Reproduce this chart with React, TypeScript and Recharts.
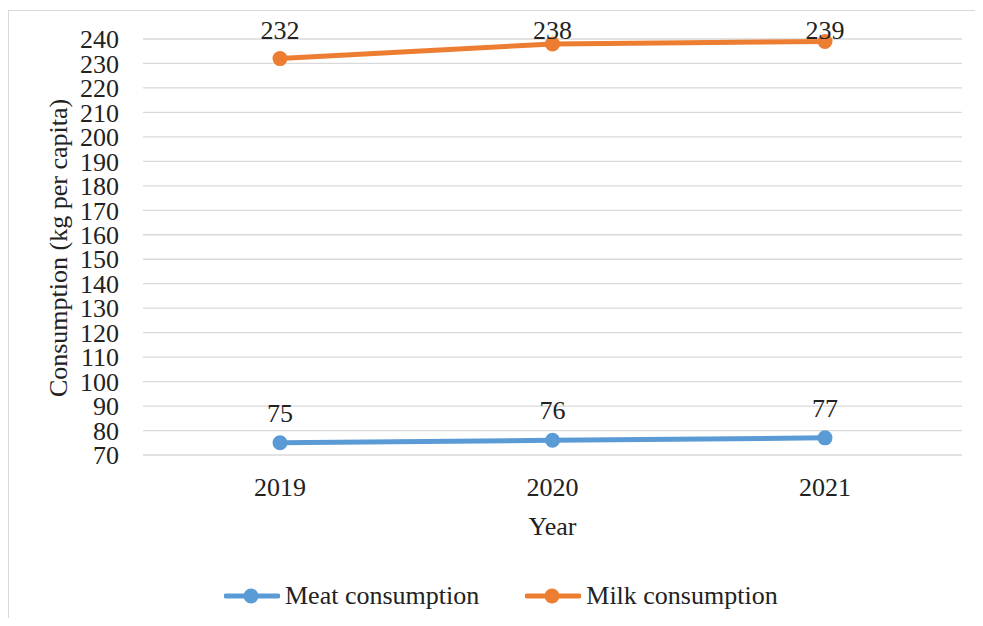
import { LineChart, Line, XAxis, YAxis, CartesianGrid, Legend, LabelList } from "recharts";

const YEARS = ["2019", "2020", "2021"];
const MEAT = [75, 76, 77];
const MILK = [232, 238, 239];
const Y_TICKS = [70, 80, 90, 100, 110, 120, 130, 140, 150, 160, 170, 180, 190, 200, 210, 220, 230, 240];

const SERIES = [
  { key: "meat", name: "Meat consumption", color: "#5B9BD5" },
  { key: "milk", name: "Milk consumption", color: "#ED7D31" },
];

const data = YEARS.map((year, i) => ({ year, meat: MEAT[i], milk: MILK[i] }));

const FONT = "'Liberation Serif', 'DejaVu Serif', serif";
const TEXT = "#222222";

// labels near the top are held inside the plot, like the spreadsheet does
function PointLabel(props: any) {
  const { x, y, value } = props;
  const baseline = Math.max(y - 21, 39);
  return (
    <text x={x} y={baseline} textAnchor="middle" fontSize={26} fill={TEXT} fontFamily={FONT}>
      {value}
    </text>
  );
}

function LegendContent() {
  return (
    <div style={{ display: "flex", alignItems: "center", height: 30, fontFamily: FONT, fontSize: 26, color: TEXT }}>
      {SERIES.map((s, i) => (
        <div key={s.key} style={{ display: "flex", alignItems: "center", marginLeft: i === 0 ? 0 : 46 }}>
          <svg width={56} height={20} style={{ display: "block" }}>
            <line x1={2} y1={10} x2={54} y2={10} stroke={s.color} strokeWidth={5} strokeLinecap="round" />
            <circle cx={27} cy={10} r={7.5} fill={s.color} />
          </svg>
          <span style={{ marginLeft: 5, lineHeight: "30px" }}>{s.name}</span>
        </div>
      ))}
    </div>
  );
}

export default function App() {
  return (
    <div
      style={{
        position: "relative",
        margin: -8,
        width: 983,
        height: 626,
        background: "#fff",
        overflow: "hidden",
        fontFamily: FONT,
      }}
    >
      <div
        style={{
          position: "absolute",
          left: 8,
          top: 10,
          width: 1100,
          height: 800,
          border: "1.5px solid #D9D9D9",
        }}
      />
      <LineChart
        width={983}
        height={626}
        data={data}
        margin={{ top: 39, right: 21, bottom: 0, left: 0 }}
        style={{ position: "absolute", left: 0, top: 0, fontFamily: FONT }}
      >
        <CartesianGrid vertical={false} stroke="#D9D9D9" strokeWidth={1.3} />
        <XAxis
          dataKey="year"
          scale="point"
          padding={{ left: 137, right: 137 }}
          axisLine={false}
          tickLine={false}
          tickSize={0}
          tickMargin={23}
          interval={0}
          height={141}
          tick={{ fontSize: 26, fill: TEXT, fontFamily: FONT }}
          label={{ value: "Year", position: "insideTop", offset: 62, fontSize: 26, fill: TEXT, fontFamily: FONT }}
        />
        <YAxis
          domain={[70, 240]}
          ticks={Y_TICKS}
          interval={0}
          width={143}
          axisLine={false}
          tickLine={false}
          tickSize={0}
          tickMargin={24}
          tick={{ fontSize: 26, fill: TEXT, fontFamily: FONT }}
          label={{
            content: () => (
              <text
                x={58}
                y={248}
                transform="rotate(-90 58 248)"
                textAnchor="middle"
                dominantBaseline="central"
                fontSize={26}
                fill={TEXT}
                fontFamily={FONT}
              >
                Consumption (kg per capita)
              </text>
            ),
          }}
        />
        <Legend
          verticalAlign="bottom"
          content={() => <LegendContent />}
          wrapperStyle={{ left: 224, top: 581, width: 620, height: 30 }}
        />
        {SERIES.map((s) => (
          <Line
            key={s.key}
            type="linear"
            dataKey={s.key}
            name={s.name}
            stroke={s.color}
            strokeWidth={5}
            dot={{ r: 7.5, fill: s.color, stroke: "none" }}
            activeDot={false}
            isAnimationActive={false}
          >
            <LabelList dataKey={s.key} content={PointLabel} />
          </Line>
        ))}
      </LineChart>
    </div>
  );
}
